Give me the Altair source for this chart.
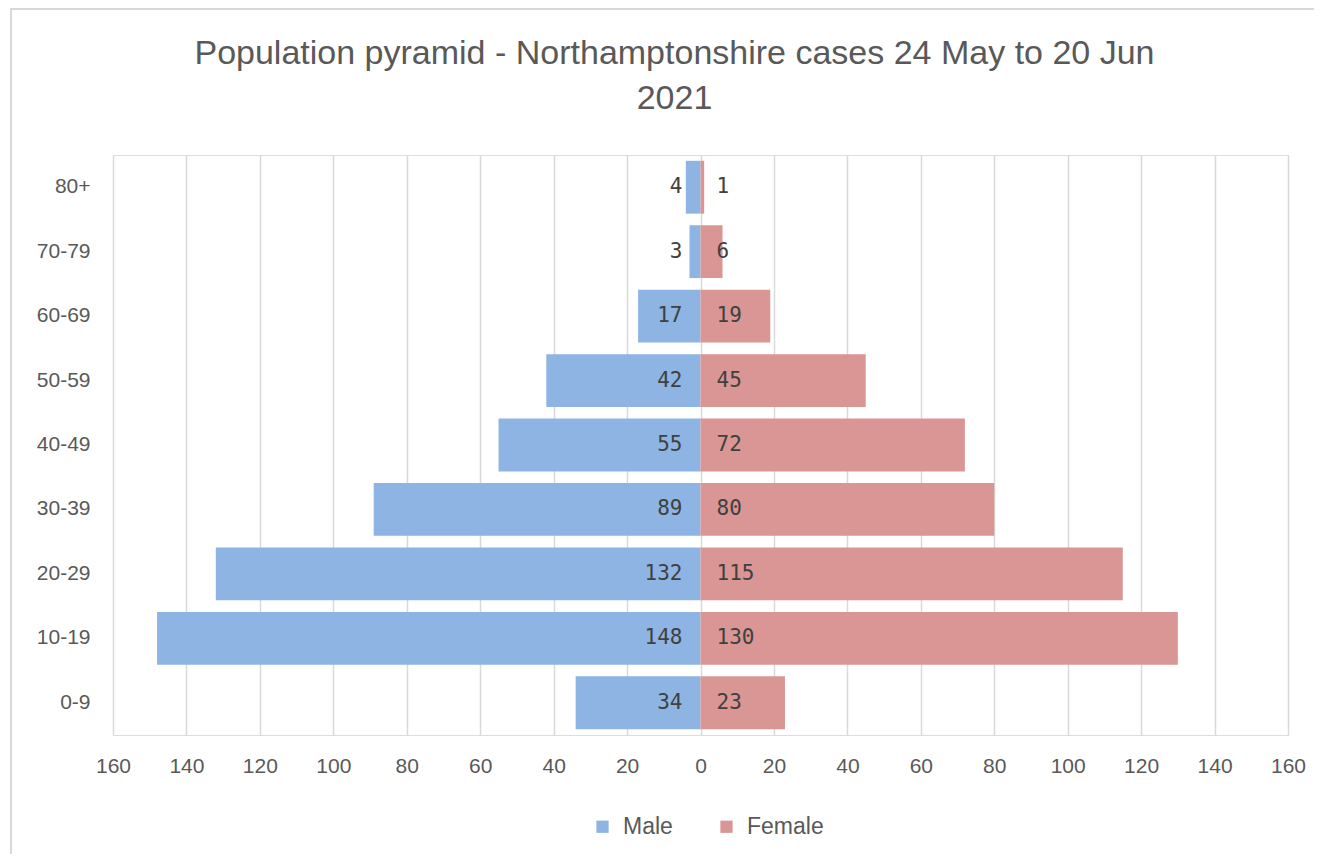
import altair as alt
import pandas as pd

ages = ["0-9", "10-19", "20-29", "30-39", "40-49", "50-59", "60-69", "70-79", "80+"]
male = [34, 148, 132, 89, 55, 42, 17, 3, 4]
female = [23, 130, 115, 80, 72, 45, 19, 6, 1]
x_ticks = list(range(-160, 161, 20))
title_lines = ["Population pyramid - Northamptonshire cases 24 May to 20 Jun", "2021"]

rows = []
for a, m, f in zip(ages, male, female):
    rows.append({"age": a, "sex": "Male", "count": m, "signed": -m})
    rows.append({"age": a, "sex": "Female", "count": f, "signed": f})
df = pd.DataFrame(rows)

order = list(reversed(ages))
FONT = "Liberation Sans"
GREY = "#595959"

y_enc = alt.Y("age:N", sort=order, title=None,
              scale=alt.Scale(paddingInner=0.18, paddingOuter=0.09),
              axis=alt.Axis(ticks=False, domain=False, labelPadding=23, labelFontSize=21,
                            labelColor=GREY, labelFont=FONT, grid=False))
x_enc = alt.X("signed:Q", title=None,
              scale=alt.Scale(domain=[-160, 160], nice=False),
              axis=alt.Axis(values=x_ticks, labelExpr="abs(datum.value)", ticks=False,
                            domain=False, grid=True, gridColor="#d9d9d9", gridWidth=1.5,
                            labelFlush=False, labelBound=False,
                            labelPadding=20, labelFontSize=21, labelColor=GREY, labelFont=FONT))

color = alt.Color("sex:N", title=None,
                  scale=alt.Scale(domain=["Male", "Female"], range=["#8EB4E3", "#D99694"]),
                  legend=alt.Legend(orient="none", legendX=478, legendY=660, direction="horizontal",
                                    symbolType="square", symbolSize=150, symbolStrokeWidth=0,
                                    labelFontSize=23, labelColor=GREY, labelFont=FONT,
                                    labelOffset=9, columnPadding=42))

frame = alt.Chart(pd.DataFrame({"k": [0]})).mark_rect(
    fill=None, stroke="#d9d9d9", strokeWidth=2
).encode(x=alt.value(-102), y=alt.value(-146), x2=alt.value(1400), y2=alt.value(900))

bars = alt.Chart(df).mark_bar().encode(x=x_enc, y=y_enc, color=color)

labels_m = alt.Chart(df[df.sex == "Male"]).mark_text(
    align="right", baseline="middle", dx=-18, font="DejaVu Sans Mono", fontSize=21, color="#404040"
).encode(x=alt.datum(0), y=alt.Y("age:N", sort=order), text="count:Q")

labels_f = alt.Chart(df[df.sex == "Female"]).mark_text(
    align="left", baseline="middle", dx=16, font="DejaVu Sans Mono", fontSize=21, color="#404040"
).encode(x=alt.datum(0), y=alt.Y("age:N", sort=order), text="count:Q")

chart = alt.layer(frame, bars, labels_m, labels_f).properties(
    width=1175, height=580,
    title=alt.Title(title_lines, anchor="middle", dx=-26, dy=150, offset=42, fontSize=34,
                    font=FONT, fontWeight="normal", color=GREY, lineHeight=45),
    padding={"left": 105, "top": 147, "right": 26, "bottom": 119},
    autosize=alt.AutoSizeParams(type="none"),
).configure_view(stroke=None).configure(background="white")

chart.save("out.html", embed_options={"renderer": "svg", "actions": False})
